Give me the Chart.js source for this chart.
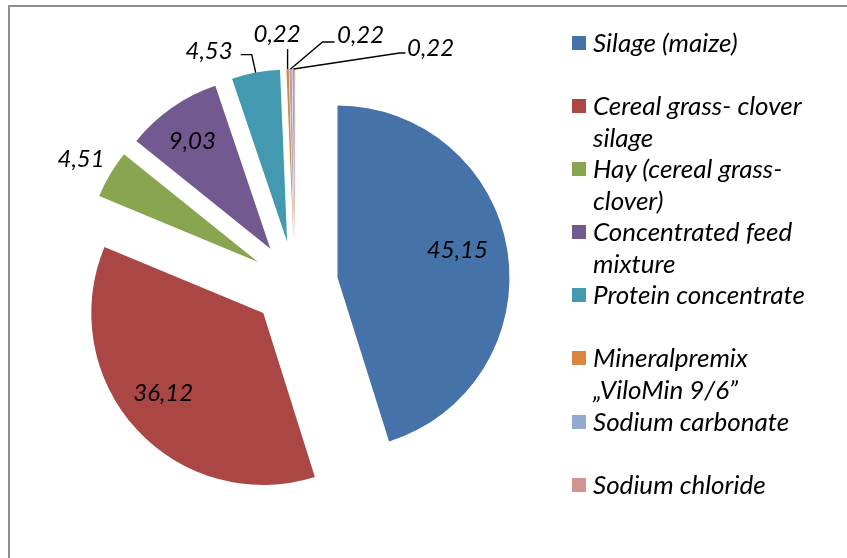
<!DOCTYPE html>
<html>
<head>
<meta charset="utf-8">
<script src="https://cdn.jsdelivr.net/npm/chart.js@4.4.0/dist/chart.umd.min.js"></script>
<style>
  html, body { margin: 0; padding: 0; background: #fff; overflow: hidden; }
  #wrap { position: absolute; left: 0; top: 0; width: 847px; height: 558px; }
  #frame { position: absolute; left: 8px; top: 5px; width: 900px; height: 600px; border: 2px solid #8c8c8c; }
  #legend { position: absolute; left: 572px; top: 27px; margin: 0; padding: 0; list-style: none;
            font: italic 26px Lato; color: #000; white-space: nowrap; }
  #legend li { position: relative; height: 63.1px; line-height: 31.5px; padding-left: 21px; }
  #legend .box { position: absolute; left: 0; top: 9px; width: 14px; height: 14px; }
</style>
</head>
<body>
<div id="frame"></div>
<div id="wrap"><canvas id="myChart"></canvas></div>
<ul id="legend"></ul>
<script>
// feed ration shares, %
const labels = [
    'Silage (maize)',
    ['Cereal grass- clover', 'silage'],
    ['Hay (cereal grass-', 'clover)'],
    ['Concentrated feed', 'mixture'],
    'Protein concentrate',
    ['Mineralpremix', '\u201EViloMin 9/6\u201D'],
    'Sodium carbonate',
    'Sodium chloride'
]
const values = [45.15, 36.12, 4.51, 9.03, 4.53, 0.22, 0.22, 0.22]
const colors = ['#4572A8', '#AA4744', '#89A54F', '#725990', '#4299B0', '#DC853E', '#93A9CF', '#D19392']

const explode = 43 // px every slice is pulled out

// where each value label goes (inside the slice, or outside with a leader line)
const labelLayout = [
    { inside: true, dx: 6, dy: -10 },
    { inside: true, dx: -15, dy: 2 },
    { inside: false, align: 'center', dx: -29, dy: -15 },
    { inside: true, dx: -12, dy: -13 },
    { inside: false, align: 'right', dx: -23, dy: -21, path: [[-4, -18], [-15, -18]] },
    { inside: false, align: 'center', dx: -10.5, dy: -35, path: [[0, -20]] },
    { inside: false, align: 'left', dx: 46.5, dy: -34, path: [[32, -27], [44, -27]] },
    { inside: false, align: 'left', dx: 113.5, dy: -21, path: [[106, -16], [112, -16]] }
]

// html legend
let legendEl = document.getElementById('legend')
for (let i = 0; i < labels.length; i++) {
    let li = document.createElement('li')
    let box = document.createElement('span')
    box.className = 'box'
    box.style.background = colors[i]
    li.appendChild(box)
    let lines = Array.isArray(labels[i]) ? labels[i] : [labels[i]]
    lines.forEach(function (t, k) {
        if (k > 0) li.appendChild(document.createElement('br'))
        li.appendChild(document.createTextNode(t))
    })
    legendEl.appendChild(li)
}

// chart.js "offset" also grows the radius of thin slices, so move the arcs ourselves
const explodeArcs = {
    id: 'explodeArcs',
    afterUpdate(chart) {
        chart.getDatasetMeta(0).data.forEach(function (arc) {
            const mid = (arc.startAngle + arc.endAngle) / 2
            arc.x += explode * Math.cos(mid)
            arc.y += explode * Math.sin(mid)
        })
    }
}

const pieLabels = {
    id: 'pieLabels',
    afterDatasetsDraw(chart) {
        const ctx = chart.ctx
        const meta = chart.getDatasetMeta(0)
        ctx.save()
        ctx.font = 'italic 24px Lato'
        ctx.fillStyle = '#000'
        ctx.strokeStyle = '#000'
        ctx.lineWidth = 1.4
        ctx.textBaseline = 'middle'
        meta.data.forEach(function (arc, i) {
            const p = arc.getProps(['x', 'y', 'startAngle', 'endAngle', 'outerRadius'])
            const mid = (p.startAngle + p.endAngle) / 2
            const L = labelLayout[i]
            const text = values[i].toFixed(2).replace('.', ',')
            if (L.inside) {
                const r = p.outerRadius * 0.67
                ctx.textAlign = 'center'
                ctx.fillText(text, p.x + r * Math.cos(mid) + L.dx, p.y + r * Math.sin(mid) + L.dy)
            } else {
                const ox = p.x + p.outerRadius * Math.cos(mid)
                const oy = p.y + p.outerRadius * Math.sin(mid)
                if (L.path) {
                    ctx.beginPath()
                    ctx.moveTo(ox, oy)
                    L.path.forEach(function (pt) { ctx.lineTo(ox + pt[0], oy + pt[1]) })
                    ctx.stroke()
                }
                ctx.textAlign = L.align
                ctx.fillText(text, ox + L.dx, oy + L.dy)
            }
        })
        ctx.restore()
    }
}

function draw() {
    const ctx = document.getElementById('myChart')
    new Chart(ctx, {
        type: 'pie',
        data: {
            labels: labels,
            datasets: [{
                data: values,
                backgroundColor: colors,
                borderWidth: 0,
                offset: 0,
                hoverOffset: 0
            }]
        },
        options: {
            responsive: true,
            maintainAspectRatio: false,
            animation: false,
            events: [],
            radius: 172,
            layout: { padding: { left: 0, right: 257, top: 10, bottom: 0 } },
            plugins: {
                legend: { display: false },
                tooltip: { enabled: false }
            }
        },
        plugins: [explodeArcs, pieLabels]
    })
}

document.fonts.load('italic 24px Lato').then(draw, draw)
</script>
</body>
</html>
